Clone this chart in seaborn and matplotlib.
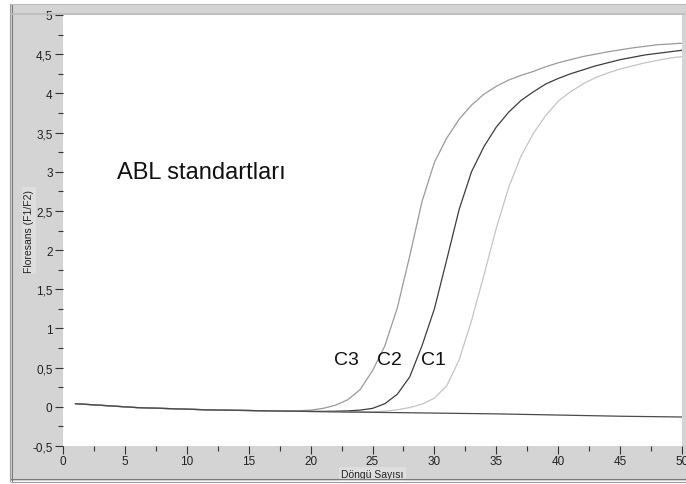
import matplotlib
matplotlib.use("Agg")
import matplotlib.pyplot as plt
import matplotlib.patches as mpatches
from matplotlib.lines import Line2D
from matplotlib.ticker import MultipleLocator, FuncFormatter
import seaborn as sns
import pandas as pd

# ---------------- data ----------------
cycles = list(range(1, 51))

ntc = [0.04, 0.03, 0.02, 0.01, 0.00, -0.01, -0.015, -0.02, -0.025, -0.03,
       -0.035, -0.04, -0.042, -0.045, -0.047, -0.05, -0.052, -0.055, -0.057, -0.06,
       -0.062, -0.064, -0.066, -0.068, -0.07, -0.072, -0.074, -0.076, -0.078, -0.08,
       -0.082, -0.084, -0.086, -0.088, -0.09, -0.093, -0.096, -0.099, -0.102, -0.105,
       -0.108, -0.111, -0.114, -0.117, -0.12, -0.122, -0.124, -0.126, -0.128, -0.13]

c3 = [0.04, 0.03, 0.02, 0.01, 0.00, -0.01, -0.015, -0.02, -0.025, -0.03,
      -0.035, -0.04, -0.042, -0.045, -0.047, -0.05, -0.051, -0.052, -0.05, -0.042,
      -0.02, 0.02, 0.09, 0.22, 0.46, 0.78, 1.26, 1.92, 2.62, 3.12,
      3.43, 3.67, 3.85, 3.99, 4.09, 4.17, 4.23, 4.28, 4.34, 4.39,
      4.43, 4.47, 4.50, 4.53, 4.555, 4.58, 4.60, 4.62, 4.63, 4.64]

c2 = [0.04, 0.03, 0.02, 0.01, 0.00, -0.01, -0.015, -0.02, -0.025, -0.03,
      -0.035, -0.04, -0.042, -0.045, -0.047, -0.05, -0.052, -0.055, -0.057, -0.058,
      -0.058, -0.056, -0.052, -0.042, -0.02, 0.04, 0.16, 0.38, 0.78, 1.25,
      1.88, 2.52, 3.00, 3.32, 3.57, 3.76, 3.91, 4.02, 4.12, 4.19,
      4.25, 4.30, 4.35, 4.39, 4.43, 4.46, 4.49, 4.51, 4.53, 4.55]

c1 = [0.04, 0.03, 0.02, 0.01, 0.00, -0.01, -0.015, -0.02, -0.025, -0.03,
      -0.035, -0.04, -0.042, -0.045, -0.047, -0.05, -0.052, -0.055, -0.057, -0.06,
      -0.062, -0.064, -0.066, -0.066, -0.063, -0.055, -0.038, -0.01, 0.035, 0.11,
      0.27, 0.60, 1.10, 1.68, 2.28, 2.80, 3.20, 3.49, 3.72, 3.90,
      4.02, 4.12, 4.20, 4.26, 4.31, 4.35, 4.39, 4.42, 4.45, 4.47]

series_names = ["C3", "C2", "C1", "NTC"]
series_colors = {"C3": "#9a9a9a", "C2": "#3c3c3c", "C1": "#c4c4c4", "NTC": "#4a4a4a"}

x_ticks = [0, 5, 10, 15, 20, 25, 30, 35, 40, 45, 50]
y_ticks = [-0.5, 0, 0.5, 1, 1.5, 2, 2.5, 3, 3.5, 4, 4.5, 5]

curve_labels = ["C3", "C2", "C1"]
curve_label_x = [22.9, 26.4, 29.9]
curve_label_y = [0.61, 0.61, 0.61]

title_text = "ABL standartları"
x_label = "Döngü Sayısı"
y_label = "Floresans (F1/F2)"

df = pd.concat([
    pd.DataFrame({"cycle": cycles, "value": vals, "series": name})
    for name, vals in zip(series_names, [c3, c2, c1, ntc])
], ignore_index=True)

# ---------------- figure ----------------
sns.set_style("white")
plt.rcParams["font.family"] = ["Liberation Sans", "DejaVu Sans"]

W, H = 686, 485
fig = plt.figure(figsize=(W / 100, H / 100), dpi=100, facecolor="white")

# grey window frame
fig.add_artist(mpatches.Rectangle((11 / W, 1 - 482 / H), (W - 11) / W, (482 - 5) / H,
                                  transform=fig.transFigure, facecolor="#d4d4d4",
                                  edgecolor="none", zorder=0))
for xx, col in [(10, "#9a9a9a"), (12, "#7a7a7a")]:
    fig.add_artist(Line2D([xx / W, xx / W], [1 - 482 / H, 1 - 5 / H],
                          transform=fig.transFigure, color=col, lw=0.8))
for yy, col in [(480, "#7a7a7a"), (483, "#9a9a9a")]:
    fig.add_artist(Line2D([11 / W, 1], [1 - yy / H, 1 - yy / H],
                          transform=fig.transFigure, color=col, lw=0.8))
fig.add_artist(Line2D([11 / W, 1], [1 - 5 / H, 1 - 5 / H],
                      transform=fig.transFigure, color="#bcbcbc", lw=0.8))
fig.add_artist(Line2D([11 / W, 1], [1 - 15 / H, 1 - 15 / H],
                      transform=fig.transFigure, color="#bdbdbd", lw=1.2))

left, right, top, bottom = 63, 682, 16, 447
ax = fig.add_axes([left / W, 1 - bottom / H, (right - left) / W, (bottom - top) / H])
ax.set_facecolor("white")

sns.lineplot(data=df, x="cycle", y="value", hue="series", hue_order=series_names,
             palette=series_colors, linewidth=0.9, legend=False, ax=ax,
             estimator=None, sort=True)

ax.set_xlim(0, 50)
ax.set_ylim(-0.5, 5)
ax.set_xticks(x_ticks)
ax.set_yticks(y_ticks)
ax.xaxis.set_minor_locator(MultipleLocator(2.5))
ax.yaxis.set_minor_locator(MultipleLocator(0.25))

def comma_fmt(v, pos):
    return ("%g" % v).replace(".", ",")

ax.yaxis.set_major_formatter(FuncFormatter(comma_fmt))
ax.xaxis.set_major_formatter(FuncFormatter(comma_fmt))

ax.tick_params(axis="both", which="major", direction="out", length=6, width=0.8,
               color="#333333", labelsize=8.5, labelcolor="#222222", pad=1.5,
               left=True, bottom=True)
ax.tick_params(axis="x", which="major", pad=0.5)
ax.tick_params(axis="both", which="minor", direction="out", length=3.5, width=0.8,
               color="#333333", left=True, bottom=True)

for s in ax.spines.values():
    s.set_visible(False)

ax.set_xlabel(x_label, fontsize=7.5, color="#222222",
              bbox=dict(facecolor="#dedede", edgecolor="none", pad=1.5))
ax.set_ylabel(y_label, fontsize=7.5, color="#222222",
              bbox=dict(facecolor="#dedede", edgecolor="none", pad=1.5))
ax.yaxis.set_label_coords(-0.047, 0.5)
ax.xaxis.set_label_coords(0.5, -0.053)

ax.text(4.4, 3.0, title_text, fontsize=17, color="#111111", va="center", ha="left")
for lab, lx, ly in zip(curve_labels, curve_label_x, curve_label_y):
    ax.text(lx, ly, lab, fontsize=14, color="#111111", ha="center", va="center")

fig.savefig("out.png", dpi=100, facecolor=fig.get_facecolor())
